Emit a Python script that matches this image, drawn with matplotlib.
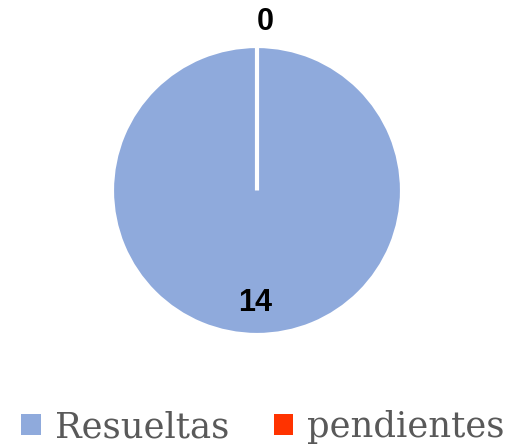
import matplotlib.pyplot as plt
from matplotlib.patches import Patch

categorias = ['Resueltas', 'pendientes']
valores = [14, 0]
colores = ['#8FAADC', '#FF3300']

fig = plt.figure(figsize=(5.17, 4.48), dpi=100)
# ejes del pastel en pixeles de la figura
ax = fig.add_axes([112 / 517, (448 - 335) / 448, 290 / 517, 289 / 448])
wedges, _ = ax.pie(valores, colors=colores, startangle=90, counterclock=False,
                   radius=1, wedgeprops=dict(edgecolor='white', linewidth=3))
ax.set_xlim(-1, 1)
ax.set_ylim(-1, 1)
ax.set_aspect('auto')

# etiquetas de datos
ax.text(0.06, 1.165, str(valores[1]), ha='center', va='center',
        fontsize=22, fontweight='bold', family='Liberation Sans')
ax.text(-0.01, -0.78, str(valores[0]), ha='center', va='center',
        fontsize=22, fontweight='bold', family='Liberation Sans')

handles = [Patch(facecolor=c, edgecolor='none') for c in colores]
fig.legend(handles, categorias, loc='center', bbox_to_anchor=(263 / 517, 1 - 427 / 448),
           ncol=2, frameon=False, handlelength=0.55, handleheight=0.55,
           handletextpad=0.4, columnspacing=1.25,
           prop={'family': 'DejaVu Serif', 'size': 25.5}, labelcolor='#595959')

fig.savefig('out.png', dpi=100)
